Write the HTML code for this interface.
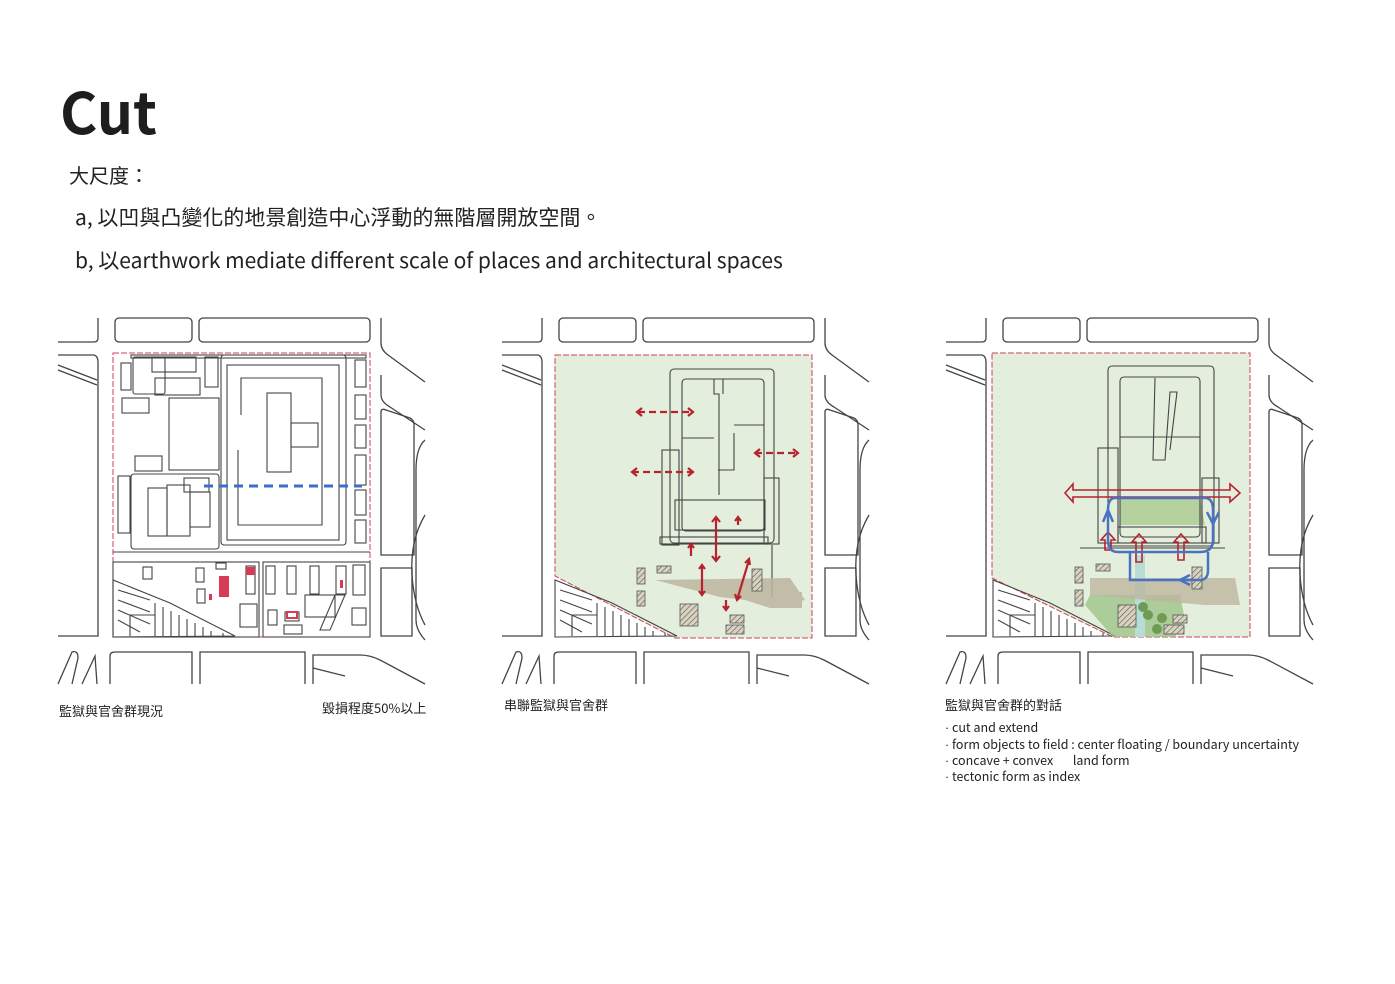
<!DOCTYPE html>
<html><head><meta charset="utf-8"><style>
body{margin:0;background:#fff;width:1395px;height:984px;overflow:hidden;font-family:"Noto Sans CJK TC","Liberation Sans",sans-serif;color:#222}
.t{position:absolute;white-space:nowrap;line-height:1}
.b{font-family:"Liberation Sans",sans-serif}
</style></head><body>
<div class="t" style="left:60px;top:82px;font-size:57px;font-weight:bold;color:#1e1e1e">Cut</div>
<div class="t" style="left:69px;top:165px;font-size:20px">大尺度：</div>
<div class="t" style="left:75px;top:207px;font-size:21px">a, 以凹與凸變化的地景創造中心浮動的無階層開放空間。</div>
<div class="t" style="left:75px;top:250px;font-size:21px">b, 以earthwork mediate different scale of places and architectural spaces</div>

<svg width="1395" height="984" style="position:absolute;left:0;top:0" xmlns="http://www.w3.org/2000/svg">
<defs>
<pattern id="h" width="4" height="4" patternUnits="userSpaceOnUse" patternTransform="rotate(45)"><rect width="4" height="4" fill="#d8d2bf"/><line x1="0" y1="0" x2="0" y2="4" stroke="#555" stroke-width="1.2"/></pattern>
<g id="base" fill="none" stroke="#444" stroke-width="1.3">
<path d="M58,342 L94,342 Q98,342 98,338 L98,318"/>
<rect x="115" y="318" width="77" height="24" rx="4"/>
<rect x="199" y="318" width="171" height="24" rx="4"/>
<path d="M381,318 L381,343 Q381,350 388,355 L425,382"/>
<path d="M58,355 L94,355 Q98,356 98,362 L98,636 L58,636"/>
<path d="M58,365 L97,380"/><path d="M58,370 L97,385"/>
<path d="M381,375 L381,395 Q381,402 390,407 L425,430"/>
<path d="M381,412 Q381,408 386,410 L410,418 Q414,420 414,425 L414,555 L381,555 Z"/>
<path d="M381,568 L412,568 L412,636 L381,636 Z"/>
<path d="M425,440 Q416,448 416,470 L416,620 Q416,630 425,640"/>
<path d="M425,515 Q410,540 412,575 Q414,605 425,625"/>
<path d="M110,684 L110,656 Q110,652 115,652 L192,652 L192,684"/>
<path d="M200,684 L200,652 L305,652 L305,684"/>
<path d="M313,684 L313,655 L360,655 Q370,655 380,660 L425,684"/>
<path d="M313,668 L345,676"/>
<path d="M58,684 L72,652 Q78,650 78,658 L72,684"/><path d="M82,684 L95,656 L97,684"/>
</g>
<g id="blk" fill="none" stroke="#444" stroke-width="1.1">
<path d="M113,637 L113,580 L170,603 L235,636 Z"/>
<path d="M118,590 L150,600 M118,600 L150,612 M118,610 L150,624 M118,620 L140,632"/>
<path d="M155,603 L155,636 M163,607 L163,636 M171,611 L171,636 M179,615 L179,636 M187,619 L187,636 M195,623 L195,636 M203,627 L203,636 M211,631 L211,636 M223,633 L223,636"/>
<path d="M130,636 L130,615 L155,615"/>
</g>
</defs>

<!-- Panel 1 -->
<use href="#base"/>
<rect x="113" y="353" width="257" height="284" fill="none" stroke="#d0405a" stroke-width="1" stroke-dasharray="6 2"/>
<g fill="none" stroke="#444" stroke-width="1.1">
<rect x="131" y="355" width="235" height="3" />
<rect x="121" y="363" width="10" height="27"/>
<rect x="133" y="357" width="32" height="37" rx="2"/>
<rect x="152" y="357" width="44" height="15"/>
<rect x="155" y="378" width="45" height="17"/>
<rect x="205" y="357" width="13" height="30"/>
<rect x="122" y="398" width="27" height="15"/>
<rect x="169" y="398" width="50" height="72"/>
<rect x="135" y="456" width="27" height="15"/>
<rect x="221" y="355" width="125" height="190" rx="3"/>
<rect x="227" y="365" width="112" height="175"/>
<path d="M241,415 L241,378 L322,378 L322,525 L238,525 L238,450"/>
<rect x="267" y="393" width="24" height="79"/>
<rect x="291" y="423" width="27" height="24"/>
<rect x="131" y="474" width="88" height="75" rx="3"/>
<rect x="148" y="488" width="19" height="48"/>
<rect x="167" y="485" width="23" height="51"/>
<rect x="190" y="492" width="20" height="35"/>
<rect x="184" y="478" width="25" height="14"/>
<rect x="118" y="476" width="12" height="57"/>
<rect x="355" y="360" width="11" height="27"/><rect x="355" y="395" width="11" height="24"/>
<rect x="355" y="425" width="11" height="23"/><rect x="355" y="455" width="11" height="30"/>
<rect x="355" y="490" width="11" height="25"/><rect x="355" y="520" width="11" height="23"/>
<path d="M113,552 L370,552"/>
<rect x="113" y="562" width="146" height="75"/><rect x="263" y="562" width="107" height="75"/>
<rect x="143" y="567" width="9" height="12"/><rect x="196" y="568" width="8" height="14"/>
<rect x="197" y="589" width="8" height="14"/><rect x="216" y="563" width="10" height="6"/>
<rect x="246" y="566" width="9" height="28"/><rect x="240" y="604" width="17" height="23"/>
<rect x="266" y="566" width="9" height="28"/><rect x="287" y="566" width="9" height="28"/>
<rect x="310" y="566" width="9" height="28"/><rect x="336" y="566" width="10" height="28"/>
<rect x="268" y="610" width="9" height="15"/><rect x="285" y="612" width="14" height="9"/>
<rect x="284" y="625" width="18" height="9"/><rect x="353" y="565" width="12" height="30"/>
<rect x="305" y="595" width="30" height="22"/><path d="M320,630 L335,595 L345,595 L330,630Z"/>
<rect x="352" y="608" width="14" height="17"/>
</g>
<use href="#blk"/>
<g fill="#d63a55"><rect x="219" y="576" width="10" height="21"/><rect x="246" y="567" width="9" height="8"/><rect x="209" y="594" width="3" height="6"/><rect x="340" y="580" width="3" height="8"/><rect x="287" y="612" width="10" height="6" fill="none" stroke="#d63a55" stroke-width="2"/></g>
<line x1="204" y1="486" x2="362" y2="486" stroke="#3a6fc7" stroke-width="3" stroke-dasharray="9 6"/>

<!-- Panel 2 -->
<g transform="translate(444,0)"><use href="#base"/></g>
<path d="M555,355 L812,355 L812,638 L675,638 L555,576 Z" fill="#e3efdc" stroke="#d0405a" stroke-width="1" stroke-dasharray="6 2"/>
<g transform="translate(442,0)"><use href="#blk"/></g>
<g fill="none" stroke="#444" stroke-width="1.1">
<rect x="670" y="369" width="104" height="174" rx="4"/>
<rect x="682" y="379" width="82" height="152" rx="4"/>
<path d="M714,379 L714,394 L719,394 L719,495 M723,379 L723,394 M734,425 L764,425 M734,433 L734,470 L718,470 M682,438 L714,438"/>
<rect x="662" y="450" width="17" height="95"/><rect x="675" y="500" width="90" height="30"/>
<rect x="660" y="537" width="108" height="7"/><rect x="764" y="478" width="15" height="66"/>
<path d="M772,545 L772,597"/>
</g>
<g fill="#bdb59f" opacity="0.85"><path d="M655,580 L790,578 L805,600 L770,608 L745,600 L720,597 L655,580Z"/><rect x="770" y="592" width="32" height="16"/></g>
<g fill="url(#h)" stroke="#555" stroke-width="0.8">
<rect x="637" y="568" width="8" height="16"/><rect x="637" y="591" width="8" height="15"/><rect x="657" y="566" width="14" height="7"/>
<rect x="680" y="604" width="18" height="22"/><rect x="752" y="569" width="10" height="22"/><rect x="730" y="615" width="14" height="8"/><rect x="726" y="625" width="18" height="9"/>
</g>
<g stroke="#b8222e" stroke-width="2.2" fill="none">
<path d="M638,412 L692,412" stroke-dasharray="7 4"/><path d="M642,408 L637,412 L642,416 M688,408 L693,412 L688,416"/>
<path d="M632,472 L692,472" stroke-dasharray="7 4"/><path d="M637,468 L632,472 L637,476 M688,468 L693,472 L688,476"/>
<path d="M755,453 L797,453" stroke-dasharray="7 4"/><path d="M760,449 L755,453 L760,457 M793,449 L798,453 L793,457"/>
<path d="M716,518 L716,560 M712,522 L716,517 L720,522 M712,556 L716,561 L720,556"/>
<path d="M738,518 L738,525 M735,521 L738,517 L741,521"/>
<path d="M691,544 L691,556 M688,548 L691,544 L694,548"/>
<path d="M702,565 L702,595 M699,569 L702,565 L705,569 M699,591 L702,595 L705,591"/>
<path d="M737,600 L749,560 M745,563 L749,559 L750,565 M735,594 L737,600 L741,596"/>
<path d="M726,600 L726,610 M723,606 L726,610 L729,606"/>
</g>

<!-- Panel 3 -->
<g transform="translate(888,0)"><use href="#base"/></g>
<path d="M992,353 L1250,353 L1250,637 L1113,637 L992,578 Z" fill="#e3efdc" stroke="#d0405a" stroke-width="1" stroke-dasharray="6 2"/>
<g transform="translate(880,0)"><use href="#blk"/></g>
<path d="M1113,637 L1085,605 L1090,595 L1180,595 L1185,620 L1175,637Z" fill="#9ec48a" opacity="0.8"/>
<path d="M1135,555 L1145,555 L1145,637 L1135,637Z" fill="#b8dcd6"/>
<path d="M1120,497 L1200,497 L1205,525 L1120,525Z" fill="#a9c98f" opacity="0.8"/>
<g fill="#bdb59f" opacity="0.8"><path d="M1090,578 L1235,578 L1240,605 L1205,605 L1090,595Z"/></g>
<g fill="none" stroke="#444" stroke-width="1.1">
<rect x="1108" y="366" width="106" height="180" rx="4"/>
<rect x="1120" y="377" width="80" height="160" rx="4"/>
<path d="M1155,378 L1153,460 L1165,460 L1170,392 L1177,392 L1170,450 M1120,437 L1200,437"/>
<rect x="1098" y="448" width="20" height="95"/><rect x="1202" y="478" width="17" height="65"/>
<rect x="1118" y="527" width="88" height="16"/>
<path d="M1080,548 L1225,548"/>
</g>
<g fill="url(#h)" stroke="#555" stroke-width="0.8">
<rect x="1075" y="567" width="8" height="16"/><rect x="1075" y="590" width="8" height="16"/><rect x="1096" y="564" width="14" height="7"/>
<rect x="1118" y="605" width="18" height="22"/><rect x="1192" y="567" width="10" height="22"/><rect x="1173" y="615" width="14" height="8"/><rect x="1164" y="625" width="20" height="9"/>
</g>
<g fill="#6e9b55"><circle cx="1143" cy="607" r="5"/><circle cx="1148" cy="615" r="5"/><circle cx="1162" cy="618" r="5"/><circle cx="1157" cy="629" r="5"/></g>
<g fill="none" stroke="#b8222e" stroke-width="1.6">
<path d="M1065,493 L1073,484 L1073,490 L1230,490 L1230,484 L1240,493 L1230,502 L1230,497 L1073,497 L1073,502 Z"/>
<path d="M1105,550 L1105,540 L1101,540 L1108,532 L1115,540 L1111,540 L1111,550Z"/>
<path d="M1136,562 L1136,542 L1132,542 L1139,534 L1146,542 L1142,542 L1142,562Z"/>
<path d="M1178,560 L1178,542 L1174,542 L1181,534 L1188,542 L1184,542 L1184,560Z"/>
</g>
<g fill="none" stroke="#4a72c0" stroke-width="2.5">
<path d="M1115,498 L1205,498 Q1213,498 1213,510 L1213,540 Q1213,552 1200,552 L1118,552 Q1108,552 1108,540 L1108,510 Q1108,498 1115,498Z"/>
<path d="M1130,552 L1130,580 L1200,580 Q1208,580 1208,570 L1208,552"/>
<path d="M1103,522 L1108,510 L1113,522 M1207,512 L1213,524 L1219,512 M1190,575 L1180,580 L1190,585"/>
</g>
</svg>

<div class="t" style="left:59px;top:704px;font-size:13px">監獄與官舍群現況</div>
<div class="t" style="left:322px;top:701px;font-size:13px">毀損程度50%以上</div>
<div class="t" style="left:504px;top:698px;font-size:13px">串聯監獄與官舍群</div>
<div class="t" style="left:945px;top:698px;font-size:13px">監獄與官舍群的對話</div>
<div class="t" style="left:945px;top:721px;font-size:12.5px"><span class="b">·</span> cut and extend</div>
<div class="t" style="left:945px;top:737.5px;font-size:12.5px"><span class="b">·</span> form objects to field : center floating / boundary uncertainty</div>
<div class="t" style="left:945px;top:754px;font-size:12.5px"><span class="b">·</span> concave + convex &nbsp;&nbsp;&nbsp;&nbsp;&nbsp;&nbsp;land form</div>
<div class="t" style="left:945px;top:770px;font-size:12.5px"><span class="b">·</span> tectonic form as index</div>
</body></html>
